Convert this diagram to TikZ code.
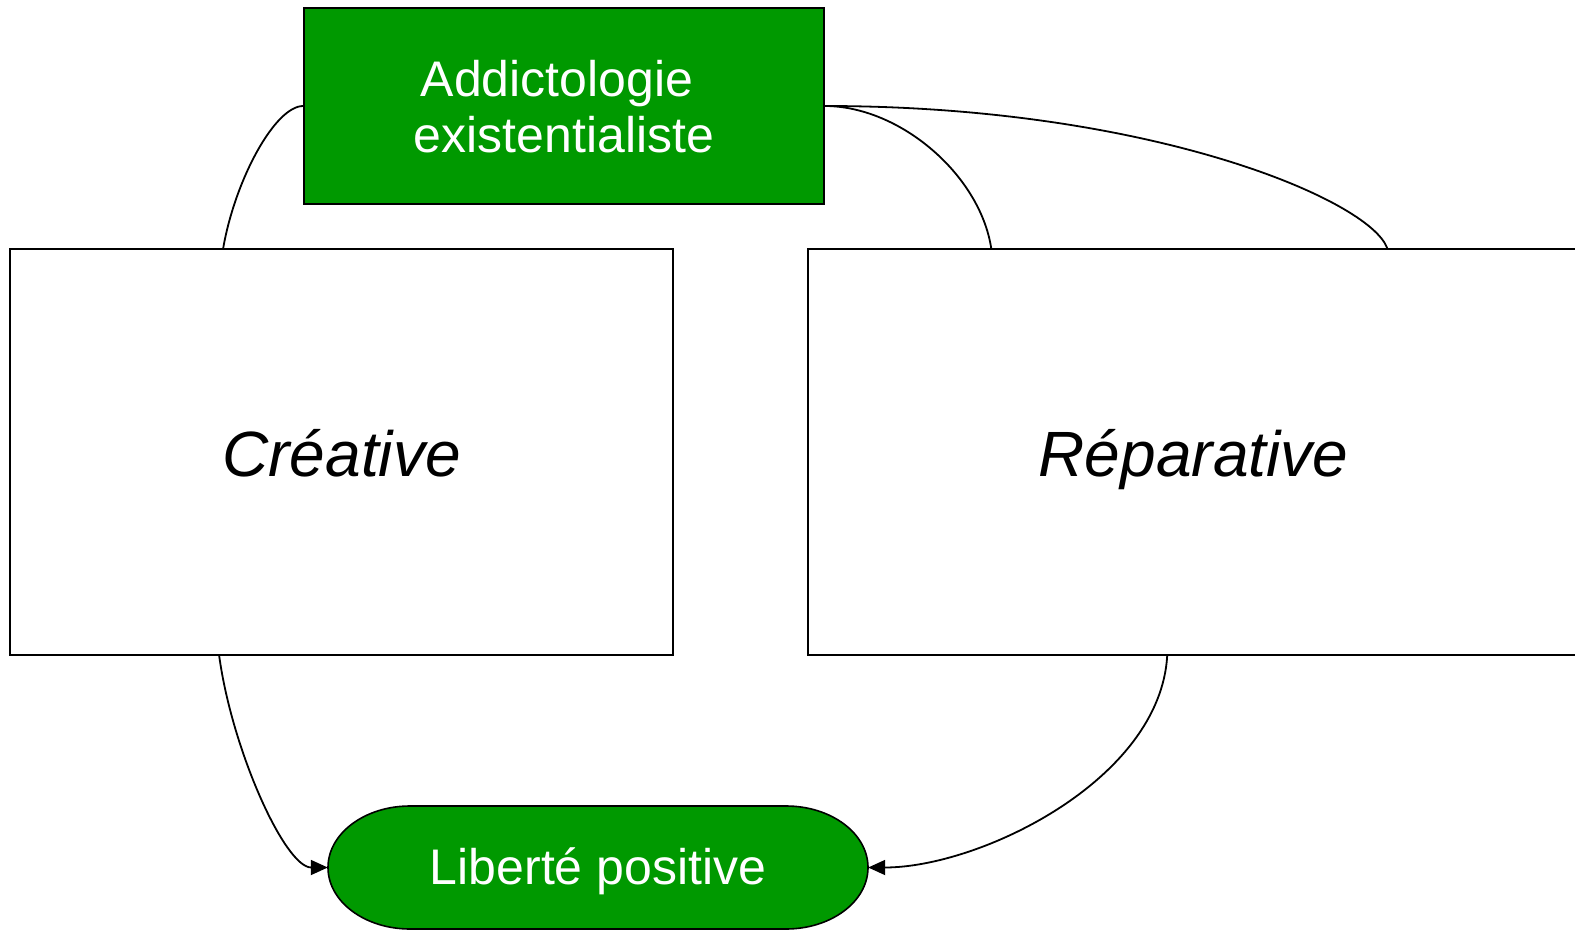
\documentclass[tikz,border=0pt]{standalone}
\usepackage{fontspec}
\setmainfont{Liberation Sans}
\usetikzlibrary{arrows.meta}
\definecolor{boxgreen}{RGB}{0,153,0}
\begin{document}
\begin{tikzpicture}[x=1pt,y=-1pt,
  box/.style={draw=black,line width=1.6pt,inner sep=0pt,anchor=center},
  greenbox/.style={box,fill=boxgreen,text=white},
  bigtxt/.style={font=\fontsize{64}{70}\selectfont\itshape,text height=48pt,text depth=0pt},
  link/.style={line width=1.8pt},
  arrowlink/.style={link,-{Triangle[length=17pt,width=15pt]}}]
\useasboundingbox (0,0) rectangle (1575,931);
\node[greenbox,minimum width=520pt,minimum height=196pt,align=center,
  font=\fontsize{50}{56}\selectfont,text height=94pt,text depth=0pt]
  (top) at (564,106) {Addictologie\kern14pt\\existentialiste};
\node[box,minimum width=663pt,minimum height=406pt,bigtxt] (left) at (341.5,452) {Créative};
\node[box,minimum width=771pt,minimum height=406pt,bigtxt] (right) at (1193.5,452) {Réparative};
\fill[boxgreen,draw=black,line width=1.6pt]
  (410,806) -- (786,806)
  .. controls (831.3,806) and (868,833.5) .. (868,867.5)
  .. controls (868,901.5) and (831.3,929) .. (786,929)
  -- (410,929)
  .. controls (364.7,929) and (328,901.5) .. (328,867.5)
  .. controls (328,833.5) and (364.7,806) .. (410,806) -- cycle;
\node[inner sep=0pt,minimum width=540pt,minimum height=123pt,text=white,
  font=\fontsize{50}{56}\selectfont,text height=34pt,text depth=0pt]
  (lib) at (598,867.5) {Liberté positive};
\coordinate (lt) at ([xshift=214pt]left.north west);
\coordinate (lb) at ([xshift=210pt]left.south west);
\coordinate (rt1) at ([xshift=184pt]right.north west);
\coordinate (rt2) at ([xshift=580pt]right.north west);
\coordinate (rb) at ([xshift=360pt]right.south west);
\draw[link] (top.west) .. controls (275,106) and (235,180) .. (lt);
\draw[link] (top.east) .. controls (900,106) and (980,175) .. (rt1);
\draw[link] (top.east) .. controls (1150,106) and (1370,200) .. (rt2);
\draw[arrowlink] (lb) .. controls (232,750) and (285,867.5) .. (lib.west);
\draw[arrowlink] (rb) .. controls (1160,780) and (980,867.5) .. (lib.east);
\end{tikzpicture}
\end{document}
